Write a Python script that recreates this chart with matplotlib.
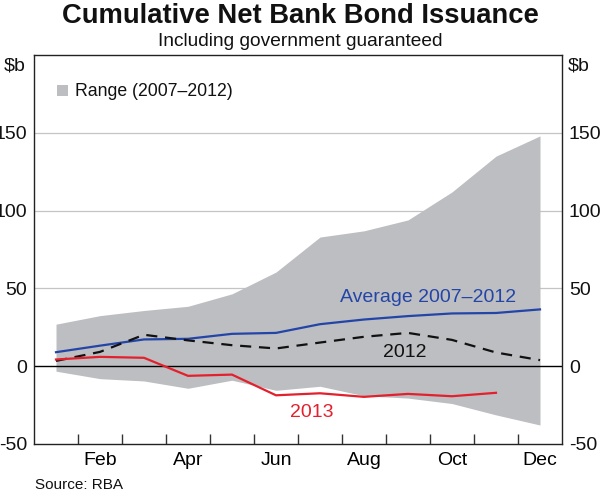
import matplotlib
matplotlib.use("Agg")
import matplotlib.pyplot as plt
from matplotlib.patches import Rectangle

plt.rcParams['font.family'] = ['Liberation Sans', 'DejaVu Sans']
plt.rcParams['axes.unicode_minus'] = False

months = ['Jan', 'Feb', 'Mar', 'Apr', 'May', 'Jun', 'Jul', 'Aug', 'Sep', 'Oct', 'Nov', 'Dec']
tick_labels = ['Feb', 'Apr', 'Jun', 'Aug', 'Oct', 'Dec']
range_high = [27, 32.5, 35.8, 38.5, 46.5, 60.5, 83, 87, 94, 112, 135, 148]
range_low = [-3.2, -8, -9.5, -14.2, -9, -15.5, -12.9, -19, -20.5, -24, -31.3, -37.8]
average = [9, 13.2, 17.2, 17.6, 20.8, 21.4, 27, 30, 32.2, 33.9, 34.2, 36.5]
y2012 = [3.4, 9.2, 20.2, 16.6, 13.5, 11.4, 15.2, 18.9, 21.4, 16.9, 8.8, 3.9]
y2013 = [4.3, 6.0, 5.4, -6.2, -5.4, -18.7, -17.4, -19.7, -17.8, -19.3, -17.1]

GRAY = '#bdbec1'
BLUE = '#2345a8'
RED = '#e3202d'
FS = 14

fig = plt.figure(figsize=(6.0, 4.92), dpi=100)
ax = fig.add_axes([34/600, 1-444/492, (562-34)/600, (444-55)/492])

x = list(range(len(months)))
ax.fill_between(x, range_low, range_high, color=GRAY, lw=0, zorder=1)
ax.axhline(0, color='black', lw=1.0, zorder=2)
ax.plot(x, average, color=BLUE, lw=1.6, zorder=3)
ax.plot(x, y2012, color='#111111', lw=1.6, ls=(0, (5, 3.5)), zorder=3)
ax.plot(list(range(len(y2013))), y2013, color=RED, lw=1.6, zorder=4)

ax.set_xlim(-0.5, 11.5)
ax.set_ylim(-50, 200)
ax.set_yticks([-50, 0, 50, 100, 150])
for v in [50, 100, 150]:
    ax.axhline(v, color='#c4c4c4', lw=0.9, zorder=0)

ax.set_xticks([i + 0.5 for i in range(11)])
ax.set_xticklabels([])
ax.set_xticks([i for i in range(1, 12, 2)], minor=True)
ax.set_xticklabels(tick_labels, minor=True)
ax.tick_params(axis='x', which='major', direction='in', length=7, width=1, color='#333333')
ax.tick_params(axis='x', which='minor', length=0, pad=6, labelsize=FS)
ax.tick_params(axis='y', which='both', length=0, labelsize=FS, pad=5,
               left=False, right=False, labelleft=True, labelright=True)
for lbl in ax.get_yticklabels():
    lbl.set_color('#111111')

for s in ax.spines.values():
    s.set_linewidth(1.0)
    s.set_color('#222222')

fig.text(26/600, 1-66/492, '$b', fontsize=FS, ha='right', va='center', color='#111111')
fig.text(568/600, 1-66/492, '$b', fontsize=FS, ha='left', va='center', color='#111111')

# legend
ax.add_patch(Rectangle((0.043, 0.894), 0.021, 0.028, transform=ax.transAxes, color=GRAY, lw=0))
ax.text(0.078, 0.9065, 'Range (2007–2012)', transform=ax.transAxes, fontsize=12.7, va='center', ha='left', color='#111111')

ax.text(8.45, 44.4, 'Average 2007–2012', color=BLUE, fontsize=FS, ha='center', va='center')
ax.text(7.93, 8.7, '2012', color='#111111', fontsize=FS, ha='center', va='center')
ax.text(5.82, -29.5, '2013', color=RED, fontsize=FS, ha='center', va='center')

fig.text(0.5, 1-16/492, 'Cumulative Net Bank Bond Issuance', ha='center', va='center',
         fontsize=19.7, fontweight='bold', color='#111111')
fig.text(0.5, 1-42/492, 'Including government guaranteed', ha='center', va='center',
         fontsize=13.8, color='#111111')
fig.text(35/600, 1-485/492, 'Source: RBA', ha='left', va='center', fontsize=11, color='#111111')

fig.savefig('out.png', dpi=100)
